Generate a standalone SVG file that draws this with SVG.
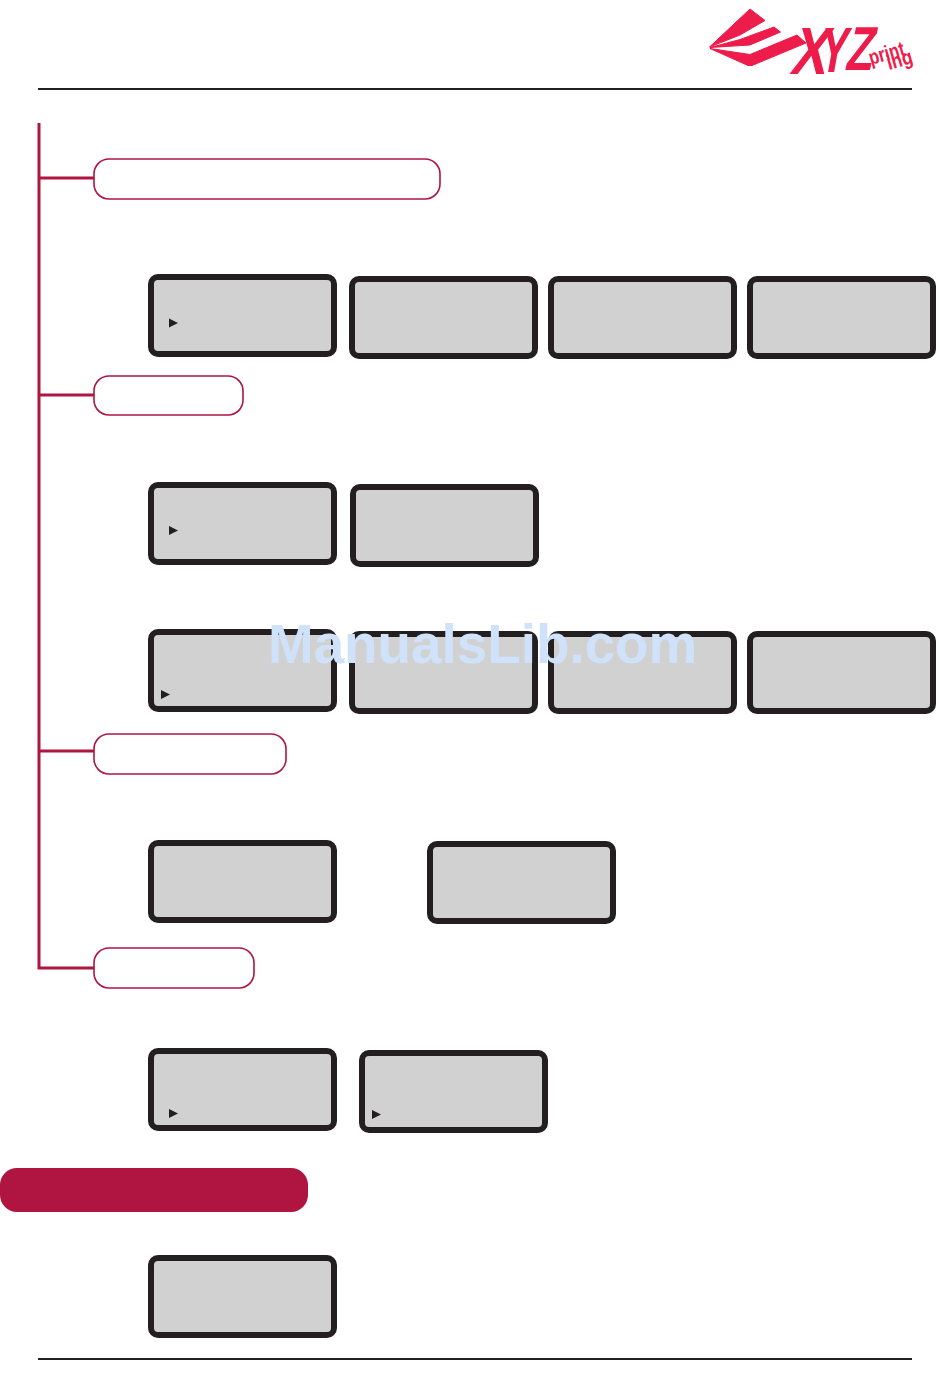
<svg xmlns="http://www.w3.org/2000/svg" width="950" height="1397" viewBox="0 0 950 1397">
<style>
.rule{stroke:#231f20;stroke-width:2;fill:none}
.conn{stroke:#b01440;stroke-width:3;fill:none}
.pill{fill:#fff;stroke:#b01440;stroke-width:1.6}
.lcd{fill:#d1d1d1;stroke:#231f20;stroke-width:6}
.cur{fill:#231f20}
.logo{fill:#ee1c4a;stroke:#ee1c4a;stroke-width:1;stroke-linejoin:round}
.lt{fill:#ee1c4a;font-family:"Liberation Sans",Arial,sans-serif;font-weight:700}
.wm{fill:#cfe2fa;font-family:"Liberation Sans",Arial,sans-serif;font-weight:700;font-size:54.800px}
</style>
<defs>
<rect id="box" x="3" y="3" width="183" height="77" rx="7" class="lcd"/>
<polygon id="tri" points="0,0 9,4.500 0,9" class="cur"/>
</defs>
<rect width="950" height="1397" fill="#fff"/>
<g id="logo">
<polygon class="logo" points="709.500,47 750,9 765,20.500 740,35"/>
<polygon class="logo" points="710,47.500 740,39.500 774,27 780.500,32 750,45"/>
<polygon class="logo" points="710,48.500 750,54.500 797,35 806,43 752,65.500 748,65.500"/>
<text class="lt" transform="translate(789 74) skewX(-14) scale(.8 1)" font-size="67">X</text>
<text class="lt" transform="translate(817 72) skewX(-10) scale(.66 1)" font-size="64">Y</text>
<text class="lt" transform="translate(844 70) skewX(-12) scale(.72 1)" font-size="62">Z</text>
<text class="lt" transform="translate(871 65) rotate(-16) scale(.78 1)" font-size="21">print</text>
<text class="lt" transform="translate(889 70) rotate(-16) scale(.82 1)" font-size="21">ing</text>
</g>
<line class="rule" x1="38" y1="89" x2="912" y2="89"/>
<line class="rule" x1="38" y1="1359" x2="912" y2="1359"/>
<g id="connectors">
<path class="conn" d="M39 123V968H94M39 178H94M39 395H94M39 751H94"/>
</g>
<g id="pill-1"><rect class="pill" x="94" y="159" width="346" height="40" rx="15"/></g>
<g id="pill-2"><rect class="pill" x="94" y="376" width="149" height="39" rx="15"/></g>
<g id="pill-3"><rect class="pill" x="94" y="734" width="192" height="40" rx="15"/></g>
<g id="pill-4"><rect class="pill" x="94" y="948" width="160" height="40" rx="15"/></g>
<g id="pill-5"><rect x="0" y="1168" width="308" height="44" rx="17" fill="#b01440"/></g>
<g id="lcd-1"><use href="#box" x="148" y="274"/><use href="#tri" x="169" y="318.500"/></g>
<g id="lcd-2"><use href="#box" x="349" y="276"/></g>
<g id="lcd-3"><use href="#box" x="548" y="276"/></g>
<g id="lcd-4"><use href="#box" x="747" y="276"/></g>
<g id="lcd-5"><use href="#box" x="148" y="482"/><use href="#tri" x="169" y="526"/></g>
<g id="lcd-6"><use href="#box" x="350" y="484"/></g>
<g id="lcd-7"><use href="#box" x="148" y="629"/><use href="#tri" x="161" y="690"/></g>
<g id="lcd-8"><use href="#box" x="349" y="631"/></g>
<g id="lcd-9"><use href="#box" x="548" y="631"/></g>
<g id="lcd-10"><use href="#box" x="747" y="631"/></g>
<g id="lcd-11"><use href="#box" x="148" y="840"/></g>
<g id="lcd-12"><use href="#box" x="427" y="841"/></g>
<g id="lcd-13"><use href="#box" x="148" y="1048"/><use href="#tri" x="169" y="1109"/></g>
<g id="lcd-14"><use href="#box" x="359" y="1050"/><use href="#tri" x="372" y="1110"/></g>
<g id="lcd-15"><use href="#box" x="148" y="1255"/></g>
<text class="wm" x="268" y="663">ManualsLib.com</text>
</svg>
